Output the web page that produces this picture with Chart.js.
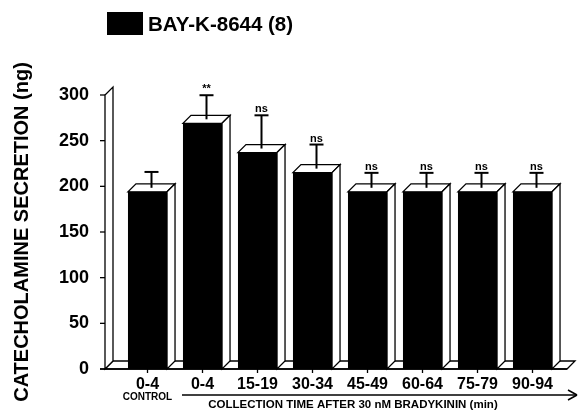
<!DOCTYPE html>
<html>
<head>
<meta charset="utf-8">
<title>Catecholamine secretion after bradykinin</title>
<script src="https://cdn.jsdelivr.net/npm/chart.js"></script>
<style>
  html, body { margin: 0; padding: 0; background: #fff; }
  #wrap { width: 580px; height: 412px; position: relative; }
</style>
</head>
<body>
<div id="wrap"><canvas id="chart"></canvas></div>
<script>
const categories = ['0-4', '0-4', '15-19', '30-34', '45-49', '60-64', '75-79', '90-94'];
const secretion = [194, 269, 237, 215, 194, 194, 194, 194];
const sem = [13, 22, 32, 22, 12, 12, 12, 12];
const significance = ['', '**', 'ns', 'ns', 'ns', 'ns', 'ns', 'ns'];
const seriesLabel = 'BAY-K-8644 (8)';
const yTitle = 'CATECHOLAMINE SECRETION (ng)';
const xTitle = 'COLLECTION TIME AFTER 30 nM BRADYKININ (min)';
const controlNote = 'CONTROL';

const FONT = '"Liberation Sans", Arial, Helvetica, sans-serif';
const depth = { dx: 8, dy: -8 };

function seg(ctx, x0, y0, x1, y1) {
  ctx.beginPath(); ctx.moveTo(x0, y0); ctx.lineTo(x1, y1); ctx.stroke();
}
function poly(ctx, pts) {
  ctx.beginPath();
  ctx.moveTo(pts[0][0], pts[0][1]);
  for (const p of pts.slice(1)) ctx.lineTo(p[0], p[1]);
  ctx.closePath(); ctx.fill(); ctx.stroke();
}

// draws the pseudo-3D wall, floor, bar sides, error bars and the extra texts
const box3d = {
  id: 'box3d',
  beforeDatasetsDraw(chart) {
    const { ctx, chartArea, scales: { x, y } } = chart;
    const base = y.getPixelForValue(0);
    const top = y.getPixelForValue(300);
    const wallX = chartArea.left - 15;
    const { dx, dy } = depth;
    ctx.save();
    ctx.strokeStyle = '#000'; ctx.fillStyle = '#fff'; ctx.lineWidth = 1.3;
    // floor
    poly(ctx, [[wallX, base], [chartArea.right + 7, base], [chartArea.right + 7 + dx, base + dy], [wallX + dx, base + dy]]);
    // wall
    poly(ctx, [[wallX, base], [wallX, top], [wallX + dx, top + dy], [wallX + dx, base + dy]]);
    // y tick marks
    y.ticks.forEach(t => { const py = y.getPixelForValue(t.value); seg(ctx, wallX - 5, py, wallX, py); });
    seg(ctx, wallX - 5, base, chartArea.right + 7, base);
    // x tick marks
    x.ticks.forEach((t, i) => { const px = x.getPixelForTick(i); seg(ctx, px, base, px, base + 4); });
    // bar top and side faces
    chart.getDatasetMeta(0).data.forEach(bar => {
      const p = bar.getProps(['x', 'y', 'width', 'base'], true);
      const x0 = p.x - p.width / 2, x1 = p.x + p.width / 2;
      poly(ctx, [[x0, p.y], [x1, p.y], [x1 + dx, p.y + dy], [x0 + dx, p.y + dy]]);
      poly(ctx, [[x1, p.y], [x1 + dx, p.y + dy], [x1 + dx, p.base + dy], [x1, p.base]]);
    });
    ctx.restore();
  },
  afterDatasetsDraw(chart) {
    const { ctx, scales: { y } } = chart;
    const { dx, dy } = depth;
    ctx.save();
    ctx.strokeStyle = '#000'; ctx.fillStyle = '#000';
    chart.getDatasetMeta(0).data.forEach((bar, i) => {
      const p = bar.getProps(['x', 'y'], true);
      const sx = p.x + dx / 2;
      const yBot = p.y + dy / 2;
      const yTop = y.getPixelForValue(secretion[i] + sem[i]) + dy;
      ctx.lineWidth = 2;
      seg(ctx, sx, yBot, sx, yTop);
      seg(ctx, sx - 7, yTop, sx + 7, yTop);
      if (significance[i]) {
        ctx.font = 'bold 11px ' + FONT;
        ctx.textAlign = 'center'; ctx.textBaseline = 'alphabetic';
        ctx.fillText(significance[i], sx, yTop - 3);
      }
    });
    ctx.restore();
  },
  afterDraw(chart) {
    const { ctx, scales: { x } } = chart;
    ctx.save();
    ctx.fillStyle = '#000'; ctx.strokeStyle = '#000';
    // legend
    ctx.fillRect(107, 12, 36, 23);
    ctx.font = 'bold 20.5px ' + FONT;
    ctx.textAlign = 'left'; ctx.textBaseline = 'middle';
    ctx.fillText(seriesLabel, 148, 25);
    // control note under first tick
    ctx.font = 'bold 10px ' + FONT;
    ctx.textAlign = 'center';
    ctx.fillText(controlNote, x.getPixelForTick(0), 397);
    // arrow and x title
    ctx.lineWidth = 1.5;
    seg(ctx, 182, 395, 577, 395);
    seg(ctx, 577, 395, 568, 390);
    seg(ctx, 577, 395, 568, 400);
    ctx.font = 'bold 11.5px ' + FONT;
    ctx.fillText(xTitle, 353, 405);
    ctx.restore();
  }
};

new Chart(document.getElementById('chart'), {
  type: 'bar',
  data: {
    labels: categories,
    datasets: [{
      label: seriesLabel,
      data: secretion,
      backgroundColor: '#000',
      borderWidth: 0,
      categoryPercentage: 1,
      barPercentage: 0.71
    }]
  },
  options: {
    responsive: true,
    maintainAspectRatio: false,
    animation: false,
    layout: { padding: { left: 6, right: 20, top: 95, bottom: 0 } },
    plugins: { legend: { display: false }, tooltip: { enabled: false } },
    scales: {
      x: {
        grid: { display: false, drawTicks: false },
        border: { display: false },
        ticks: { color: '#000', padding: 6, font: { family: FONT, size: 16, weight: 'bold' } },
        afterFit(scale) { scale.height = 43; }
      },
      y: {
        min: 0, max: 300,
        grid: { display: false, drawTicks: false },
        border: { display: false },
        ticks: { stepSize: 50, color: '#000', padding: 31, font: { family: FONT, size: 18, weight: 'bold' } },
        title: { display: true, text: yTitle, color: '#000', padding: 4, font: { family: FONT, size: 20, weight: 'bold' } },
        afterFit(scale) { scale.width = 114; }
      }
    }
  },
  plugins: [box3d]
});
</script>
</body>
</html>
